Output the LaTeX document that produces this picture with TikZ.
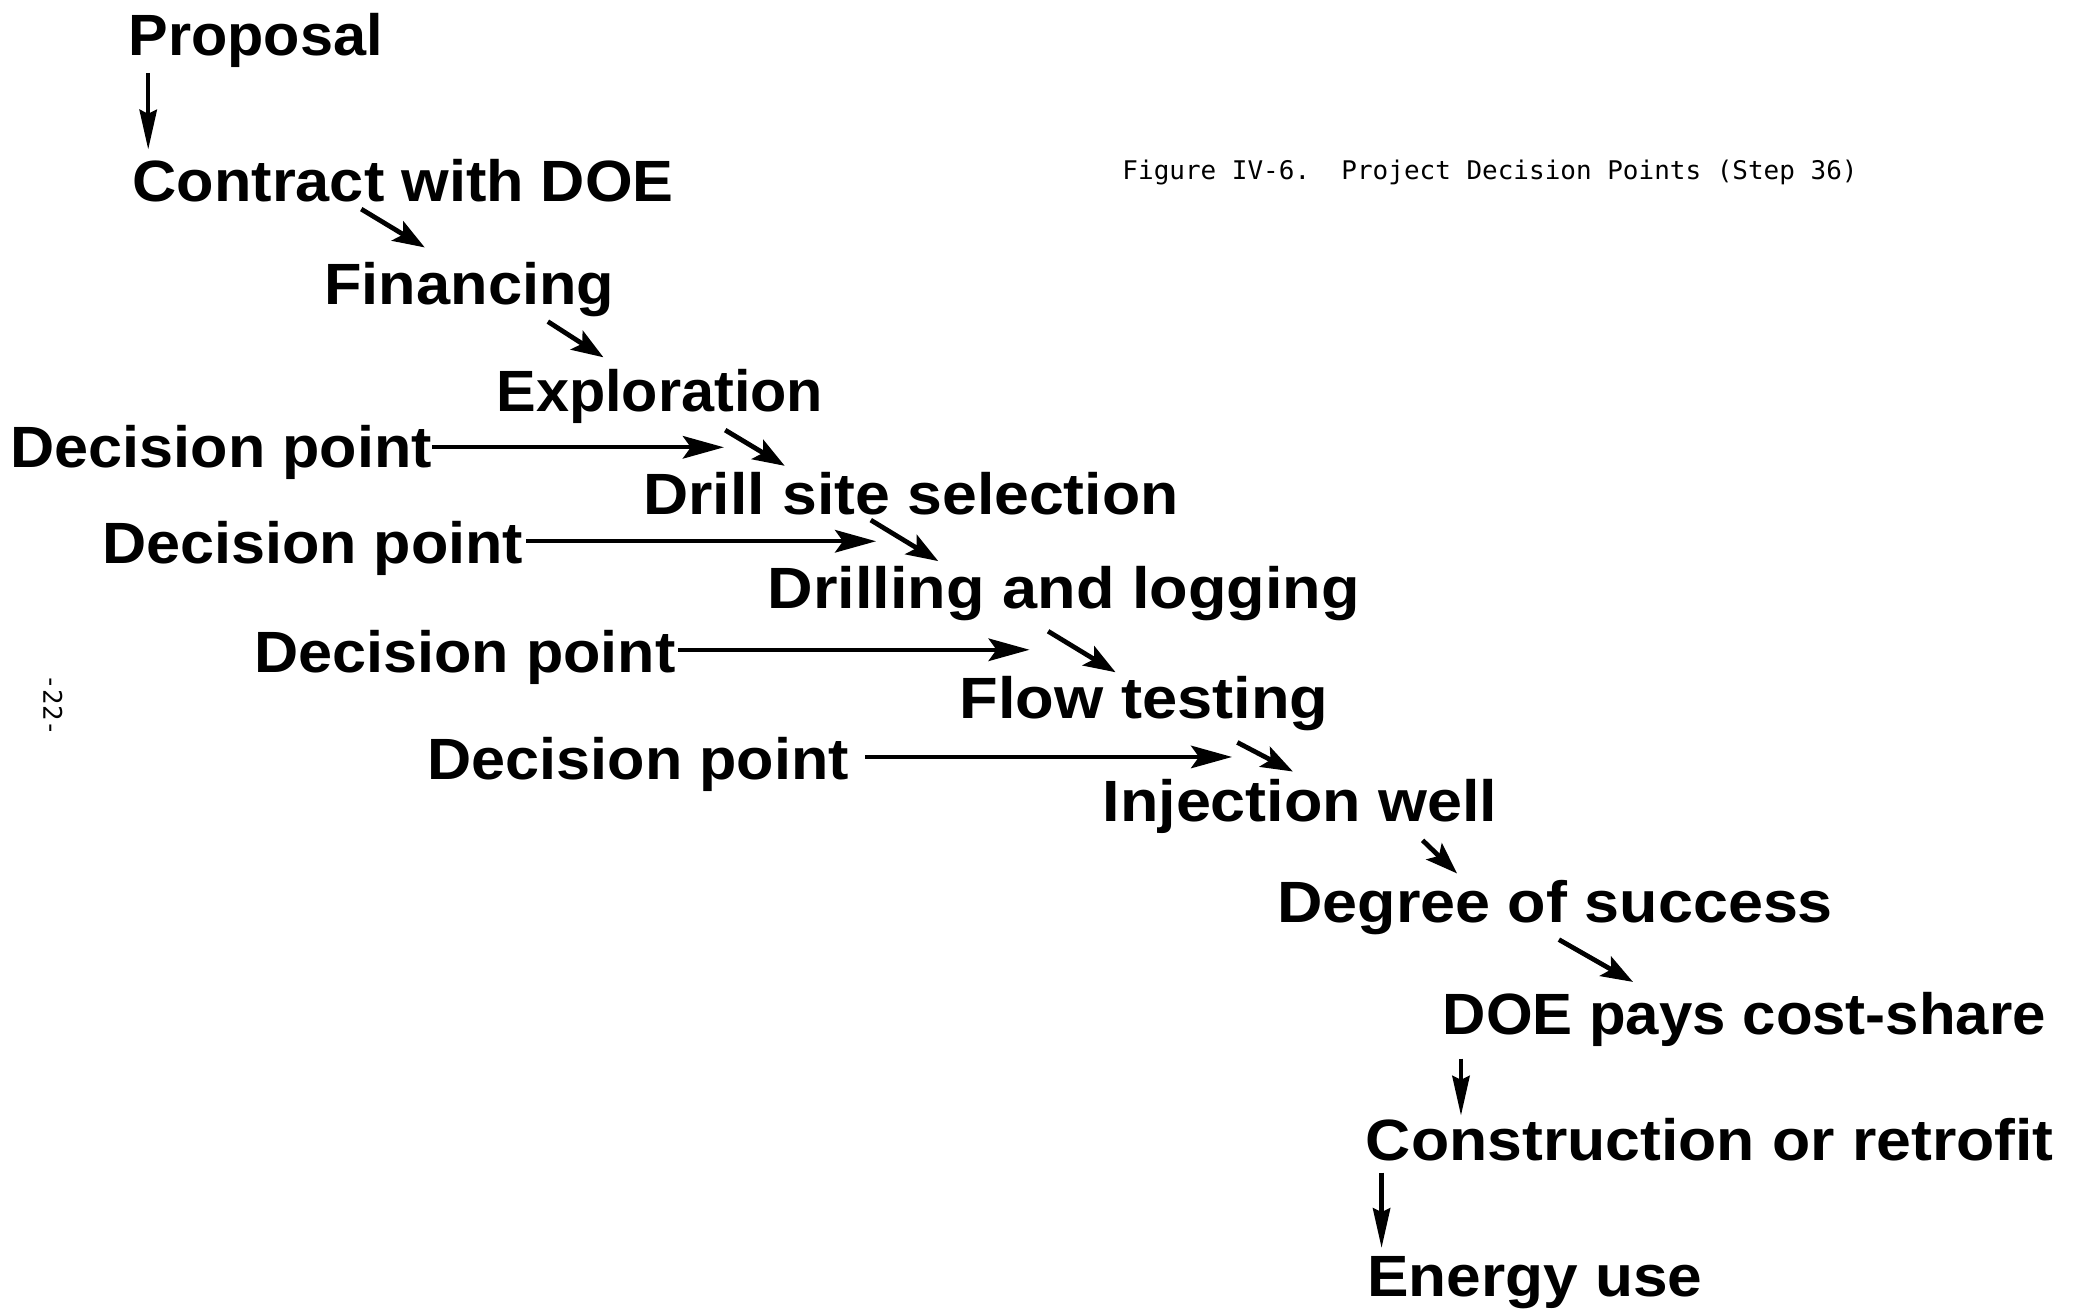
\documentclass[tikz,border=0pt]{standalone}
\usepackage{fontspec}
\setmainfont{Liberation Sans}
\newfontfamily\capfont{DejaVu Sans Mono}
\usetikzlibrary{arrows.meta}
\newcommand\wx[2]{\scalebox{#1}[1]{#2}}
\tikzset{
  lbl/.style={anchor=base west, inner sep=0pt, font=\fontsize{44}{50}\selectfont\bfseries},
  capt/.style={anchor=base west, inner sep=0pt, font=\capfont\fontsize{19.4}{22}\selectfont},
  arr/.style={line width=3.6pt, -{Stealth[length=24pt,width=17pt,inset=5pt]}},
  harr/.style={line width=3.2pt, -{Stealth[length=31pt,width=17pt,inset=6pt]}},
  varr/.style={line width=3.4pt, -{Stealth[length=30pt,width=13pt,inset=3pt]}}
}
\begin{document}
\begin{tikzpicture}[x=1pt,y=-1pt]
\useasboundingbox (0,0) rectangle (1568,994);
\fill[white] (0,0) rectangle (1568,994);

% main labels
\node[lbl] (prop) at (97,42) {\wx{1.02}{Proposal}};
\node[lbl] (contr) at (100,152) {\wx{1.052}{Contract with DOE}};
\node[lbl] (fin) at (245,230) {\wx{1.053}{Financing}};
\node[lbl] (expl) at (375,311) {\wx{1.02}{Exploration}};
\node[lbl] (dp1) at (8,353) {\wx{1.05}{Decision point}};
\node[lbl] (drill) at (486,389) {\wx{1.074}{Drill site selection}};
\node[lbl] (dp2) at (77,426) {\wx{1.05}{Decision point}};
\node[lbl] (drlog) at (580,460) {\wx{1.083}{Drilling and logging}};
\node[lbl] (dp3) at (192,508) {\wx{1.05}{Decision point}};
\node[lbl] (flow) at (725,543) {\wx{1.086}{Flow testing}};
\node[lbl] (dp4) at (323,589) {\wx{1.05}{Decision point}};
\node[lbl] (inj) at (833,621) {\wx{1.08}{Injection well}};
\node[lbl] (deg) at (965,697) {\wx{1.08}{Degree of success}};
\node[lbl] (pays) at (1090,782) {\wx{1.03}{DOE pays cost-share}};
\node[lbl] (constr) at (1032,877) {\wx{1.074}{Construction or retrofit}};
\node[lbl] (energy) at (1033,980) {\wx{1.068}{Energy use}};

\node[capt] (cap) at (848,136) {\wx{1.012}{Figure IV-6.\ \ Project Decision Points (Step 36)}};
\node[inner sep=0pt, rotate=-90, font=\capfont\fontsize{19.4}{22}\selectfont] (pg) at (40,533) {-22-};

% arrow end points
\coordinate (a1s) at (112,55);   \coordinate (a1e) at (112,113);
\coordinate (a2s) at (273,158);  \coordinate (a2e) at (321,187);
\coordinate (a3s) at (414,243);  \coordinate (a3e) at (456,270);
\coordinate (a4s) at (548,325);  \coordinate (a4e) at (593,352);
\coordinate (a5s) at (658,393);  \coordinate (a5e) at (709,424);
\coordinate (a6s) at (792,477);  \coordinate (a6e) at (843,508);
\coordinate (a7s) at (935,561);  \coordinate (a7e) at (977,583);
\coordinate (a8s) at (1075,635); \coordinate (a8e) at (1101,660);
\coordinate (a9s) at (1178,710); \coordinate (a9e) at (1234,742);
\coordinate (a10s) at (1104,800); \coordinate (a10e) at (1104,843);
\coordinate (a11s) at (1044,886); \coordinate (a11e) at (1044,943);
\coordinate (h1e) at (547,338);
\coordinate (h2e) at (662,409);
\coordinate (h3e) at (778,491);
\coordinate (h4e) at (931,572);

\draw[varr] (a1s) -- (a1e);
\draw[arr] (a2s) -- (a2e);
\draw[arr] (a3s) -- (a3e);
\draw[arr] (a4s) -- (a4e);
\draw[arr] (a5s) -- (a5e);
\draw[arr] (a6s) -- (a6e);
\draw[arr] (a7s) -- (a7e);
\draw[arr] (a8s) -- (a8e);
\draw[arr] (a9s) -- (a9e);
\draw[varr] (a10s) -- (a10e);
\draw[varr] (a11s) -- (a11e);

\draw[harr] (dp1.base east |- h1e) -- (h1e);
\draw[harr] ([xshift=2pt]dp2.base east |- h2e) -- (h2e);
\draw[harr] ([xshift=2pt]dp3.base east |- h3e) -- (h3e);
\draw[harr] ([xshift=12pt]dp4.base east |- h4e) -- (h4e);
\end{tikzpicture}
\end{document}
